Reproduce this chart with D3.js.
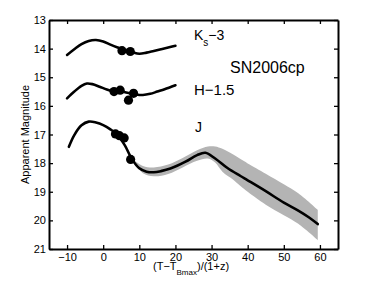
<!DOCTYPE html>
<html>
<head>
<meta charset="utf-8">
<script src="https://cdn.jsdelivr.net/npm/d3@7"></script>
<style>
  body { margin: 0; background: #fff; }
  text { font-family: "Liberation Sans", Arial, sans-serif; fill: #000; }
</style>
</head>
<body>
<div class="canvas"></div>
<script>
// phase (days) and magnitude
const ksPhase = [-10, -8, -6, -4, -2, 0, 2, 4, 6, 8, 10, 12, 14, 16, 18, 20];
const ksMag = [14.22, 14.02, 13.84, 13.73, 13.70, 13.75, 13.86, 13.96, 14.05, 14.12, 14.18, 14.14, 14.08, 14.02, 13.96, 13.9];
const ksDotPhase = [5.2, 7.5];
const ksDotMag = [14.07, 14.1];

const hPhase = [-10, -8, -6, -4.5, -3, -1, 1, 3, 5, 7, 9, 11, 13, 15, 17, 20];
const hMag = [15.74, 15.5, 15.3, 15.22, 15.24, 15.33, 15.43, 15.5, 15.5, 15.55, 15.6, 15.62, 15.58, 15.5, 15.42, 15.28];
const hDotPhase = [3.0, 4.7, 7.0, 8.4];
const hDotMag = [15.5, 15.45, 15.8, 15.56];

const jPhase = [-9.5, -8, -6, -4, -2, 0, 2, 4, 6, 8, 10, 12, 14, 16, 18.6, 22.8, 26, 28.3, 31, 34.4, 38, 40, 45, 50, 54, 57, 59.4];
const jMag = [17.43, 17.02, 16.68, 16.55, 16.58, 16.67, 16.82, 17.02, 17.38, 17.87, 18.18, 18.3, 18.32, 18.28, 18.19, 17.95, 17.72, 17.64, 17.84, 18.17, 18.45, 18.6, 18.98, 19.38, 19.66, 19.9, 20.13];
const jDotPhase = [3.4, 4.5, 5.8, 7.6];
const jDotMag = [16.98, 17.04, 17.12, 17.87];

// J uncertainty band
const bandPhase = [8, 11, 14, 18, 22, 26, 29, 31, 33, 36, 38, 40, 45, 50, 54, 59.4];
const bandUpper = [17.85, 18.1, 18.15, 18.05, 17.82, 17.55, 17.42, 17.42, 17.5, 17.7, 17.86, 18.01, 18.37, 18.74, 19.05, 19.63];
const bandLower = [17.9, 18.35, 18.46, 18.38, 18.15, 17.92, 17.84, 17.98, 18.3, 18.58, 18.8, 19.0, 19.45, 19.82, 20.12, 20.69];

const xTicks = [-10, 0, 10, 20, 30, 40, 50, 60];
const yTicks = [13, 14, 15, 16, 17, 18, 19, 20, 21];

const width = 374, height = 281;
const margin = { top: 20, right: 36, bottom: 32, left: 49 };
const graphWidth = width - margin.left - margin.right;
const graphHeight = height - margin.top - margin.bottom;

const svg = d3.select('.canvas')
    .append('svg')
    .attr('width', width)
    .attr('height', height);

const graph = svg.append('g')
    .attr('transform', `translate(${margin.left}, ${margin.top})`);

// scales
const x = d3.scaleLinear().domain([-15, 65]).range([0, graphWidth]);
const y = d3.scaleLinear().domain([13, 21]).range([0, graphHeight]);

// band
const area = d3.area()
    .x(d => x(d[0]))
    .y0(d => y(d[1]))
    .y1(d => y(d[2]))
    .curve(d3.curveCatmullRom);

graph.append('path')
    .datum(bandPhase.map((p, i) => [p, bandUpper[i], bandLower[i]]))
    .attr('fill', '#b4b4b4')
    .attr('d', area);

// curves
const line = d3.line()
    .x(d => x(d[0]))
    .y(d => y(d[1]))
    .curve(d3.curveCatmullRom);

const curves = [
    [ksPhase, ksMag, ksDotPhase, ksDotMag],
    [hPhase, hMag, hDotPhase, hDotMag],
    [jPhase, jMag, jDotPhase, jDotMag]
];

curves.forEach(c => {
    graph.append('path')
        .datum(c[0].map((p, i) => [p, c[1][i]]))
        .attr('fill', 'none')
        .attr('stroke', '#000')
        .attr('stroke-width', 2.6)
        .attr('stroke-linecap', 'round')
        .attr('d', line);

    graph.append('g').selectAll('circle')
        .data(c[2].map((p, i) => [p, c[3][i]]))
        .enter()
        .append('circle')
        .attr('cx', d => x(d[0]))
        .attr('cy', d => y(d[1]))
        .attr('r', 4.6)
        .attr('fill', '#000');
});

// axes, ticks pointing inward
const fmt = d3.format('');
const xAxisBottom = d3.axisBottom(x).tickValues(xTicks).tickSizeInner(-4).tickSizeOuter(0).tickPadding(4).tickFormat(fmt);
const xAxisTop = d3.axisTop(x).tickValues(xTicks).tickSizeInner(-4).tickSizeOuter(0).tickFormat('');
const yAxisLeft = d3.axisLeft(y).tickValues(yTicks).tickSizeInner(-4).tickSizeOuter(0).tickPadding(3).tickFormat(fmt);
const yAxisRight = d3.axisRight(y).tickValues(yTicks).tickSizeInner(-4).tickSizeOuter(0).tickFormat('');

const axes = [
    graph.append('g').attr('transform', `translate(0, ${graphHeight})`).call(xAxisBottom),
    graph.append('g').call(xAxisTop),
    graph.append('g').call(yAxisLeft),
    graph.append('g').attr('transform', `translate(${graphWidth}, 0)`).call(yAxisRight)
];

axes.forEach(a => {
    a.select('.domain').attr('stroke-width', 2).attr('stroke', '#000');
    a.selectAll('.tick line').attr('stroke-width', 1.3).attr('stroke', '#000');
    a.selectAll('text')
        .style('font-family', '"Liberation Sans", Arial, sans-serif')
        .style('font-size', '11px')
        .attr('fill', '#000');
});

// axis labels
svg.append('text')
    .attr('transform', `translate(29, ${margin.top + graphHeight / 2}) rotate(-90)`)
    .attr('text-anchor', 'middle')
    .style('font-size', '11px')
    .text('Apparent Magnitude');

// x label sits over the 20/30 tick labels, as in the original
const xl = svg.append('text')
    .attr('x', 153)
    .attr('y', 270)
    .style('font-size', '11px');
xl.append('tspan').text('(T−T');
xl.append('tspan').attr('dy', 5).style('font-size', '8px').text('Bmax');
xl.append('tspan').attr('dy', -5).text(')/(1+z)');

// annotations
const ks = svg.append('text')
    .attr('x', 194)
    .attr('y', 40)
    .style('font-size', '14px');
ks.append('tspan').text('K');
ks.append('tspan').attr('dy', 6).style('font-size', '10px').text('s');
ks.append('tspan').attr('dy', -6).text('−3');

svg.append('text')
    .attr('x', 230)
    .attr('y', 73)
    .style('font-size', '16px')
    .text('SN2006cp');

svg.append('text')
    .attr('x', 194)
    .attr('y', 95)
    .style('font-size', '15px')
    .text('H−1.5');

svg.append('text')
    .attr('x', 195)
    .attr('y', 132)
    .style('font-size', '14px')
    .text('J');
</script>
</body>
</html>
